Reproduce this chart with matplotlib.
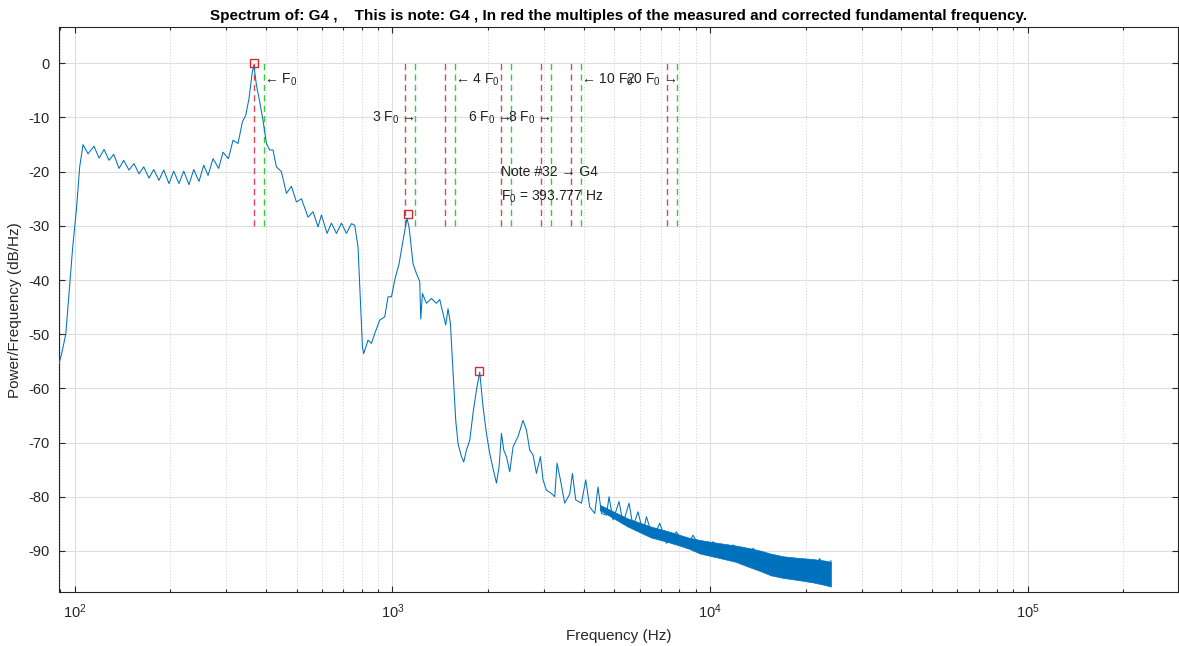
import numpy as np
import matplotlib
matplotlib.use('Agg')
import matplotlib.pyplot as plt
from matplotlib.ticker import LogLocator, FixedLocator

plt.rcParams['font.family'] = ['Liberation Sans', 'DejaVu Sans']
plt.rcParams['mathtext.fontset'] = 'custom'
plt.rcParams['mathtext.rm'] = 'Liberation Sans'
plt.rcParams['mathtext.it'] = 'Liberation Sans:italic'
plt.rcParams['axes.unicode_minus'] = False

# spectrum (Hz, dB/Hz)
spec_f = [89.3, 91.1, 93.8, 96.5, 98.6, 101.3, 103.8, 106.3, 110.2, 115.1,
          119.4, 123.8, 128.3, 132.8, 138.0, 142.7, 148.3, 153.8, 159.5, 165.0,
          171.5, 177.4, 184.3, 190.7, 198.2, 205.1, 213.1, 220.5, 229.1, 237.1,
          246.3, 254.9, 263.0, 272.7, 284.1, 293.1, 304.8, 315.2, 326.8, 337.4,
          345.6, 353.9, 362.0, 366.5, 373.4, 382.4, 391.7, 401.5, 411.2, 421.1,
          431.6, 447.5, 464.2, 481.3, 499.1, 517.5, 542.8, 562.9, 583.6, 598.2,
          623.0, 643.2, 666.9, 691.5, 717.0, 743.4, 761.4, 779.8, 793.5, 805.1,
          812.7, 838.5, 859.4, 880.2, 912.7, 946.3, 969.2, 993.5, 1017.6, 1049.8,
          1080.6, 1112.0, 1128.7, 1161.9, 1190.9, 1219.7, 1228.6, 1243.8, 1280.4, 1327.6,
          1376.5, 1409.8, 1443.9, 1472.4, 1497.2, 1523.5, 1552.4, 1583.1, 1609.7, 1649.9,
          1677.6, 1710.8, 1752.2, 1794.6, 1839.4, 1883.8, 1929.4, 1977.5, 2025.3, 2074.3,
          2126.8, 2167.3, 2204.9, 2241.9, 2286.2, 2341.6, 2398.2, 2486.6, 2578.3, 2642.7,
          2706.6, 2772.1, 2841.2, 2924.8, 2980.5, 3054.8, 3167.5, 3244.1, 3298.6, 3380.9,
          3488.0, 3616.6, 3688.1, 3777.3, 3936.7, 4061.4, 4180.9, 4335.3, 4440.2, 4550.8,
          4718.8, 4808.5, 4950.0, 5170.3, 5322.4, 5559.2, 5722.7, 5933.7, 6152.6, 6305.8,
          6614.4, 6943.2, 7289.5, 7840.6, 8429.5, 8843.1, 9506.6, 10220, 10988, 11813,
          13020, 13660, 15050, 16180, 17398, 19160, 20600, 22140, 23810, 24000]
spec_db = [-55.5, -53.5, -50.0, -41.0, -34.0, -27.0, -19.0, -15.0, -16.7, -15.3,
           -17.5, -15.9, -17.9, -16.8, -19.4, -17.9, -19.7, -18.5, -20.4, -19.1,
           -21.2, -19.6, -21.6, -19.7, -22.2, -19.9, -22.2, -19.9, -22.4, -19.6,
           -21.8, -18.8, -20.7, -17.6, -19.4, -16.4, -17.6, -14.2, -14.8, -10.8,
           -9.6, -6.5, -1.8, -0.3, -4.0, -7.1, -10.5, -14.8, -16.0, -16.0,
           -19.1, -20.0, -24.0, -22.7, -25.6, -25.0, -28.4, -27.4, -30.2, -28.0,
           -31.4, -29.5, -31.4, -29.5, -31.4, -29.6, -29.9, -33.9, -43.7, -52.3,
           -53.6, -51.1, -51.7, -49.9, -47.4, -46.8, -43.1, -43.1, -40.0, -37.0,
           -32.7, -28.6, -30.2, -37.0, -38.8, -40.3, -47.2, -42.5, -44.3, -43.4,
           -44.3, -43.6, -46.2, -48.3, -45.3, -48.0, -57.0, -65.9, -70.2, -72.6,
           -73.6, -71.4, -69.6, -64.6, -60.3, -57.0, -63.4, -68.3, -72.0, -74.8,
           -77.5, -74.5, -68.3, -71.4, -72.6, -75.4, -70.8, -68.9, -65.9, -67.7,
           -71.4, -72.3, -75.7, -72.6, -76.9, -78.8, -79.4, -80.0, -73.8, -76.9,
           -81.2, -79.5, -75.7, -80.6, -81.2, -76.9, -81.9, -83.1, -78.2, -83.1,
           -83.4, -80.0, -84.3, -80.9, -84.9, -81.2, -85.5, -82.8, -86.7, -83.7,
           -87.7, -84.9, -88.6, -86.5, -89.5, -87.1, -90.5, -88.3, -91.4, -88.9,
           -92.0, -89.5, -93.5, -91.1, -94.8, -91.7, -95.1, -91.4, -96.3, -91.8]

# thickness of the noisy high frequency part (upper / lower edge)
band_f = [4500, 5500, 6500, 7500, 8500, 9300, 10500, 12000, 13300, 14500,
          15500, 17000, 19000, 21000, 23000, 24000]
band_hi = [-81.5, -84.0, -85.5, -86.5, -87.5, -88.0, -88.5, -89.0, -89.5, -90.0,
           -90.5, -91.0, -91.3, -91.5, -91.8, -92.0]
band_lo = [-82.5, -85.5, -87.5, -88.5, -89.5, -90.5, -91.2, -92.0, -93.0, -93.8,
           -94.5, -95.0, -95.4, -95.8, -96.3, -96.6]

# detected peaks
peak_f = [366.5, 1118, 1876]
peak_db = [0.0, -27.9, -56.8]

f0_measured = 366.3
f0_corrected = 393.777
harm_k = [1, 3, 4, 6, 8, 10, 20]
harm_side = ['left', 'right', 'left', 'right', 'right', 'left', 'right']
harm_y = [-3, -10, -3, -10, -10, -3, -3]

fig = plt.figure(figsize=(11.79, 6.46), dpi=100)
ax = fig.add_axes([59 / 1179, 1 - 592.3 / 646, 1119 / 1179, 565 / 646])

blue = '#0072BD'
ax.plot(spec_f, spec_db, color=blue, lw=0.75, zorder=3)
ax.fill_between(band_f, band_lo, band_hi, color=blue, lw=0.5, zorder=3)
ax.plot(peak_f, peak_db, 's', mfc='none', mec='#d42a35', ms=5.5, mew=1.0, zorder=4)

for k, side, ty in zip(harm_k, harm_side, harm_y):
    fr = k * f0_measured
    fg = k * f0_corrected
    ax.plot([fr, fr], [-30, 0], color='#d9475a', lw=1.0, dashes=(4.5, 3), zorder=2)
    ax.plot([fg, fg], [-30, 0], color='#35cc35', lw=1.0, dashes=(4.5, 3), zorder=2)
    name = 'F$_0$' if k == 1 else '%d F$_0$' % k
    if side == 'left':
        ax.text(fg, ty, '\u2190 ' + name, ha='left', va='center', fontsize=10, color='#222222')
    else:
        ax.text(fg, ty, name + ' \u2192', ha='right', va='center', fontsize=10, color='#222222')

ax.text(6 * f0_measured, -20, 'Note #32 \u2192 G4', ha='left', va='center', fontsize=10, color='#222222')
ax.text(6 * f0_measured, -24.6, 'F$_0$ = %.3f Hz' % f0_corrected, ha='left', va='center',
        fontsize=10, color='#222222')

ax.set_xscale('log')
ax.set_xlim(89.3, 2.97e5)
ax.set_ylim(-97.65, 6.65)
ax.set_yticks(np.arange(-90, 1, 10))
ax.xaxis.set_major_locator(FixedLocator([1e2, 1e3, 1e4, 1e5]))
ax.xaxis.set_minor_locator(LogLocator(base=10, subs=np.arange(2, 10), numticks=20))

ax.set_axisbelow(True)
ax.grid(True, which='major', color='#dedede', lw=0.8, ls='-')
ax.grid(True, which='minor', axis='x', color='#cfcfcf', lw=0.7, ls=(0, (1, 2)))
ax.tick_params(which='both', direction='in', top=True, right=True, colors='#262626',
               labelsize=10.5, width=0.8)
ax.tick_params(which='major', length=4, pad=7)
ax.tick_params(which='minor', length=2.5)
for s in ax.spines.values():
    s.set_color('#262626')
    s.set_linewidth(0.8)

ax.set_xlabel('Frequency (Hz)', fontsize=11, color='#262626', labelpad=6)
ax.set_ylabel('Power/Frequency (dB/Hz)', fontsize=11, color='#262626', labelpad=4)
ax.set_title('Spectrum of: G4 ,    This is note: G4 , In red the multiples of the measured '
             'and corrected fundamental frequency.', fontsize=11, fontweight='bold', pad=5)

fig.savefig('out.png', dpi=100)
